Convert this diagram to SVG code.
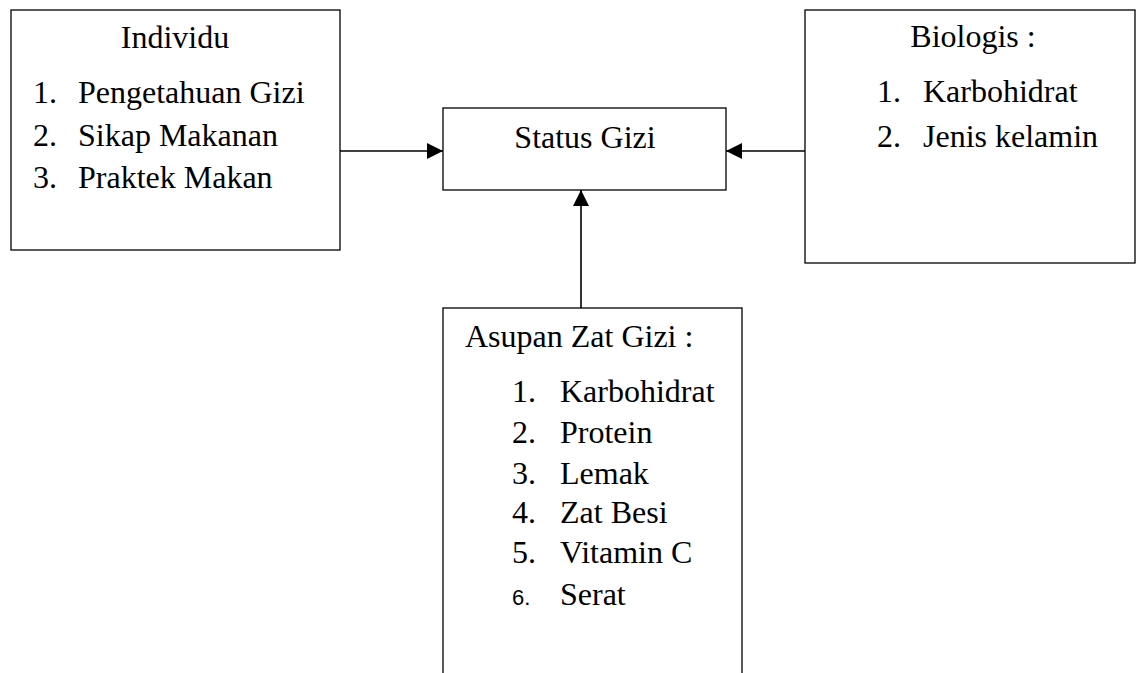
<svg xmlns="http://www.w3.org/2000/svg" width="1140" height="673" viewBox="0 0 1140 673">
<style>
.box{fill:#fff;stroke:#000;stroke-width:1.3}
.t{font-family:"Liberation Serif","Times New Roman",serif;font-size:32px;fill:#000}
.s{font-family:"Liberation Sans",Arial,sans-serif;font-size:22px;fill:#000}
.c{stroke:#000;stroke-width:1.6;fill:none}
</style>
<defs>
<marker id="ah" viewBox="0 0 16 16" refX="16" refY="8" markerWidth="16" markerHeight="16" markerUnits="userSpaceOnUse" orient="auto">
<path d="M0,0 L16,8 L0,16 Z" fill="#000"/>
</marker>
</defs>
<rect width="1140" height="673" fill="#fff"/>
<g id="connectors">
<line class="c" x1="340" y1="151" x2="443" y2="151" marker-end="url(#ah)"/>
<line class="c" x1="805" y1="151" x2="726" y2="151" marker-end="url(#ah)"/>
<line class="c" x1="581" y1="308" x2="581" y2="190" marker-end="url(#ah)"/>
</g>
<g id="individu">
<rect class="box" x="11" y="10" width="329" height="240"/>
<text class="t" x="175" y="48" text-anchor="middle">Individu</text>
<text class="t" x="33" y="103">1.</text><text class="t" x="78" y="103">Pengetahuan Gizi</text>
<text class="t" x="33" y="146">2.</text><text class="t" x="78" y="146">Sikap Makanan</text>
<text class="t" x="33" y="188">3.</text><text class="t" x="78" y="188">Praktek Makan</text>
</g>
<g id="status-gizi">
<rect class="box" x="443" y="108" width="283" height="82"/>
<text class="t" x="585" y="148" text-anchor="middle">Status Gizi</text>
</g>
<g id="biologis">
<rect class="box" x="805" y="10" width="330" height="253"/>
<text class="t" x="973" y="47" text-anchor="middle">Biologis :</text>
<text class="t" x="877" y="102">1.</text><text class="t" x="923" y="102">Karbohidrat</text>
<text class="t" x="877" y="147">2.</text><text class="t" x="923" y="147">Jenis kelamin</text>
</g>
<g id="asupan">
<rect class="box" x="443" y="308" width="299" height="420"/>
<text class="t" x="465" y="347">Asupan Zat Gizi :</text>
<text class="t" x="512" y="402">1.</text><text class="t" x="560" y="402">Karbohidrat</text>
<text class="t" x="512" y="443">2.</text><text class="t" x="560" y="443">Protein</text>
<text class="t" x="512" y="484">3.</text><text class="t" x="560" y="484">Lemak</text>
<text class="t" x="512" y="523">4.</text><text class="t" x="560" y="523">Zat Besi</text>
<text class="t" x="512" y="563">5.</text><text class="t" x="560" y="563">Vitamin C</text>
<text class="s" x="512" y="605">6.</text><text class="t" x="560" y="605">Serat</text>
</g>
</svg>
